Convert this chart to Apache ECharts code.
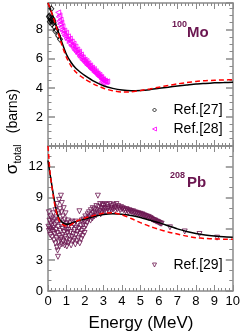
<!DOCTYPE html>
<html><head><meta charset="utf-8">
<script src="https://cdn.jsdelivr.net/npm/echarts@6/dist/echarts.min.js"></script>
<style>html,body{margin:0;padding:0;background:#fff}#c{width:243px;height:333px}</style>
</head><body><div id="c"></div>
<script>
// ---------- Top panel: 100Mo ----------
const moCalcSolid = [[0,9.85],[0.05,9.7],[0.25,9.0],[0.5,8.1],[0.75,7.15],[1.0,6.3],[1.25,5.75],[1.5,5.35],[1.75,5.08],[2.0,4.85],[2.5,4.45],[3.0,4.15],[3.5,3.97],[4.0,3.85],[4.5,3.8],[5.0,3.82],[5.5,3.88],[6.0,3.97],[6.5,4.05],[7.0,4.13],[7.5,4.2],[8.0,4.27],[8.5,4.31],[9.0,4.35],[9.5,4.37],[10.0,4.39]];
const moCalcDashed = [[0,9.85],[0.25,9.0],[0.5,8.0],[0.75,6.95],[1.0,6.1],[1.25,5.5],[1.5,5.1],[1.75,4.82],[2.0,4.6],[2.5,4.25],[3.0,3.98],[3.5,3.8],[4.0,3.72],[4.5,3.73],[5.0,3.82],[5.5,3.93],[6.0,4.05],[6.5,4.17],[7.0,4.28],[7.5,4.37],[8.0,4.45],[8.5,4.5],[9.0,4.53],[9.5,4.55],[10.0,4.56]];
const moRef27 = [[0.18,9.45],[0.08,8.95],[0.12,8.8],[0.15,8.7],[0.2,8.6],[0.25,8.75],[0.3,8.5],[0.1,8.55],[0.22,8.4],[0.35,8.2],[0.45,8.0],[0.4,7.9],[0.55,7.6],[0.65,7.35],[0.28,8.65],[0.05,8.9]];
const moRef28 = [[0.55,9.2],[0.58,8.9],[0.6,8.6],[0.62,9.0],[0.65,8.4],[0.68,8.7],[0.7,8.2],[0.72,8.5],[0.75,8.0],[0.78,8.25],[0.8,7.9],[0.85,7.75],[0.88,7.95],[0.9,7.6],[0.95,7.55],[0.98,7.8],[1.0,7.4],[1.05,7.3],[1.08,7.55],[1.1,7.35],[1.15,7.1],[1.18,7.4],[1.2,7.2],[1.25,6.95],[1.28,7.2],[1.3,6.85],[1.35,6.9],[1.38,7.05],[1.4,6.7],[1.45,6.6],[1.48,6.85],[1.5,6.55],[1.55,6.45],[1.58,6.65],[1.6,6.35],[1.65,6.4],[1.68,6.5],[1.7,6.2],[1.75,6.1],[1.78,6.3],[1.8,6.15],[1.85,5.95],[1.88,6.1],[1.9,5.9],[1.95,5.85],[1.98,5.95],[2.0,5.75],[2.05,5.7],[2.08,5.85],[2.1,5.6],[2.15,5.55],[2.18,5.7],[2.2,5.5],[2.25,5.45],[2.28,5.55],[2.3,5.35],[2.35,5.3],[2.38,5.4],[2.4,5.25],[2.45,5.2],[2.48,5.3],[2.5,5.1],[2.55,5.05],[2.58,5.15],[2.6,5.0],[2.65,4.95],[2.68,5.0],[2.7,4.85],[2.75,4.8],[2.78,4.9],[2.8,4.75],[2.85,4.7],[2.88,4.75],[2.9,4.6],[2.95,4.55],[2.98,4.6],[3.0,4.5],[3.05,4.45],[3.08,4.5],[3.1,4.42],[3.15,4.4],[3.2,4.45],[2.9,4.4],[3.0,4.35]];

// ---------- Bottom panel: 208Pb ----------
const pbCalcSolid = [[0,12.6],[0.05,12.0],[0.1,11.4],[0.2,10.3],[0.3,9.2],[0.4,8.2],[0.5,7.5],[0.6,7.0],[0.7,6.75],[0.8,6.6],[0.9,6.5],[1.0,6.45],[1.2,6.5],[1.5,6.7],[2.0,6.95],[2.5,7.2],[3.0,7.38],[3.5,7.45],[4.0,7.42],[4.5,7.3],[5.0,7.1],[5.5,6.85],[6.0,6.6],[6.5,6.3],[7.0,6.0],[7.5,5.75],[8.0,5.55],[8.5,5.4],[9.0,5.3],[9.5,5.23],[10.0,5.2]];
const pbCalcDashed = [[0,14.0],[0.05,12.8],[0.1,11.6],[0.2,10.2],[0.3,9.0],[0.4,8.0],[0.5,7.3],[0.6,6.85],[0.7,6.55],[0.8,6.4],[0.9,6.3],[1.0,6.28],[1.2,6.35],[1.5,6.7],[2.0,7.05],[2.5,7.3],[3.0,7.5],[3.5,7.55],[4.0,7.35],[4.5,7.0],[5.0,6.6],[5.5,6.25],[6.0,5.95],[6.5,5.7],[7.0,5.5],[7.5,5.3],[8.0,5.15],[8.5,5.07],[9.0,5.03],[9.5,5.0],[10.0,5.0]];
const pbRef29 = [
[0.02,6.2],[0.05,7.6],[0.05,5.8],[0.08,6.8],[0.1,6.0],[0.12,7.2],[0.12,5.4],[0.15,6.5],[0.18,5.9],[0.2,7.0],[0.2,6.3],[0.22,5.2],[0.25,6.7],[0.28,5.7],[0.3,7.5],[0.3,6.1],[0.32,4.9],[0.35,6.9],[0.35,5.5],[0.38,6.4],[0.4,7.8],[0.4,4.6],[0.42,5.9],[0.45,7.1],[0.45,5.1],[0.48,6.6],[0.48,4.2],
[0.5,8.4],[0.5,5.6],[0.52,3.9],[0.54,3.3],[0.55,6.2],[0.55,7.4],[0.58,4.7],[0.6,8.8],[0.6,5.3],[0.62,6.8],[0.62,4.3],[0.65,7.9],[0.65,5.8],[0.68,4.9],[0.7,9.2],[0.7,6.4],[0.72,5.1],[0.72,7.6],[0.75,8.5],[0.75,4.5],[0.78,6.0],[0.8,5.4],[0.8,7.2],[0.82,4.8],[0.85,6.6],[0.85,8.0],[0.88,5.7],[0.9,4.4],[0.9,6.9],[0.92,5.2],[0.95,6.2],[0.95,7.5],[0.98,4.7],[0.98,5.9],
[1.0,6.5],[1.0,5.0],[1.02,4.3],[1.05,5.6],[1.08,6.8],[1.1,4.6],[1.1,5.9],[1.12,6.3],[1.15,5.3],[1.18,4.9],[1.2,6.6],[1.22,5.7],[1.25,4.4],[1.28,6.1],[1.3,5.2],[1.32,6.7],[1.35,4.8],[1.38,5.5],[1.4,6.4],[1.42,5.0],[1.45,5.9],[1.48,4.5],[1.5,6.7],[1.52,5.4],[1.55,6.1],[1.58,4.8],[1.6,5.7],[1.62,6.5],[1.65,5.1],[1.68,6.0],[1.7,7.7],[1.72,4.6],[1.75,5.5],[1.78,6.3],[1.8,5.0],[1.82,6.8],[1.85,5.8],[1.88,5.3],[1.9,6.4],[1.92,6.9],[1.95,6.0],[1.98,5.6],
[2.0,6.7],[2.02,7.2],[2.05,6.3],[2.1,7.0],[2.12,6.6],[2.15,7.4],[2.2,6.9],[2.22,7.6],[2.25,7.1],[2.3,6.8],[2.32,7.8],[2.35,7.3],[2.4,7.0],[2.42,8.0],[2.45,7.5],[2.5,7.2],[2.52,7.9],[2.55,7.6],[2.6,7.3],[2.62,8.2],[2.65,7.8],[2.7,9.2],[2.72,7.5],[2.75,8.1],[2.8,7.7],[2.82,8.4],[2.85,7.4],[2.9,8.0],[2.92,7.6],[2.95,8.3],[2.98,7.9],
[3.0,8.2],[3.05,7.7],[3.08,8.4],[3.1,8.0],[3.15,7.6],[3.2,8.3],[3.22,7.9],[3.25,8.1],[3.3,7.7],[3.35,8.4],[3.4,8.0],[3.42,7.8],[3.45,8.2],[3.5,7.9],[3.55,8.3],[3.6,8.0],[3.62,7.7],[3.65,8.1],[3.7,8.4],[3.75,7.9],[3.8,8.2],[3.85,8.0],[3.9,7.8],[3.95,8.1],[4.0,7.9],[4.05,8.0],[4.1,7.8],[4.15,7.9],[4.2,7.7],[4.25,7.9],[4.3,7.8],[4.35,7.6],[4.4,7.8],[4.45,7.7],
[4.5,7.7],[4.55,7.6],[4.6,7.7],[4.65,7.55],[4.7,7.6],[4.75,7.5],[4.8,7.55],[4.85,7.45],[4.9,7.5],[4.95,7.4],[5.0,7.45],[5.05,7.35],[5.1,7.4],[5.15,7.3],[5.2,7.3],[5.25,7.25],[5.3,7.2],[5.35,7.2],[5.4,7.1],[5.45,7.15],[5.5,7.0],[5.55,7.05],[5.6,6.95],[5.65,6.9],[5.7,6.85],[5.75,6.8],[5.8,6.8],[5.85,6.7],[5.9,6.7],[5.95,6.65],[6.0,6.6],[6.05,6.55],[6.1,6.5],[6.15,6.5],
[6.6,6.15],[7.4,5.75],[8.2,5.5],[9.15,5.15]];

const xTicks = [0,1,2,3,4,5,6,7,8,9,10];
const yTicksTop = [2,4,6,8];
const yTicksBottom = [0,3,6,9,12];

const AX = '#8a8a8a';
const PURPLE = '#6b1650';
const FONT = 'Liberation Sans, Arial, sans-serif';

function xAx(gi, pos, showLabel) {
  return {type:'value', gridIndex:gi, position:pos, min:0, max:10, interval:1,
    axisLine:{show:true, onZero:false, lineStyle:{color:AX, width:1.5}},
    axisTick:{show:true, inside:true, length:6, lineStyle:{color:AX, width:1}},
    minorTick:{show:true, splitNumber:5, length:3, lineStyle:{color:AX, width:1}},
    splitLine:{show:false},
    axisLabel:{show:showLabel, color:'#000', fontSize:13, fontFamily:FONT, margin:4,
      formatter:v => xTicks.includes(v) ? String(v) : ''}};
}
function yAx(gi, pos, max, interval, minor, ticks, showLabel) {
  return {type:'value', gridIndex:gi, position:pos, min:0, max:max, interval:interval,
    axisLine:{show:true, onZero:false, lineStyle:{color:AX, width:1.5}},
    axisTick:{show:true, inside:true, length:7, lineStyle:{color:AX, width:1.5}},
    minorTick:{show:true, splitNumber:minor, length:3.5, lineStyle:{color:AX, width:1}},
    splitLine:{show:false},
    axisLabel:{show:showLabel, color:'#000', fontSize:13, fontFamily:FONT, margin:5,
      formatter:v => ticks.includes(v) ? String(v) : ''}};
}

const ICON_LEFT = 'path://M0,5L10,0L10,10Z';
const ICON_DOWN = 'path://M0,0L10,0L5,10Z';
const openStyle = c => ({color:'rgba(255,255,255,0)', borderColor:c, borderWidth:1});

const chart = echarts.init(document.getElementById('c'), null, {renderer:'canvas'});
chart.setOption({
  animation:false,
  backgroundColor:'#fff',
  grid:[
    {left:48, right:10, top:3, height:143},
    {left:48, right:10, top:146, height:145}
  ],
  xAxis:[xAx(0,'bottom',false), xAx(0,'top',false), xAx(1,'bottom',true), xAx(1,'top',false)],
  yAxis:[yAx(0,'left',9.85,2,4,yTicksTop,true), yAx(0,'right',9.85,2,4,yTicksTop,false),
         yAx(1,'left',14,3,3,yTicksBottom,true), yAx(1,'right',14,3,3,yTicksBottom,false)],
  legend:[
    {left:147, top:98, orient:'vertical', itemWidth:4, itemHeight:4, itemGap:5, symbolRotate:0,
     itemStyle:{borderWidth:1},
     data:[{name:'Ref.[27]', icon:'diamond', itemStyle:openStyle('#000')},
           {name:'Ref.[28]', icon:ICON_LEFT, itemStyle:openStyle('#ff00ff')}],
     textStyle:{fontSize:14, fontFamily:FONT, color:'#000', padding:[0,0,0,12], lineHeight:14}},
    {left:147, top:253, orient:'vertical', itemWidth:4, itemHeight:4, symbolRotate:0,
     itemStyle:{borderWidth:1},
     data:[{name:'Ref.[29]', icon:ICON_DOWN, itemStyle:openStyle(PURPLE)}],
     textStyle:{fontSize:14, fontFamily:FONT, color:'#000', padding:[0,0,0,12], lineHeight:14}}
  ],
  series:[
    {name:'Ref.[27]', type:'scatter', xAxisIndex:0, yAxisIndex:0, data:moRef27,
     symbol:'diamond', symbolSize:[5,6], itemStyle:openStyle('#000'), z:3},
    {name:'Ref.[28]', type:'scatter', xAxisIndex:0, yAxisIndex:0, data:moRef28,
     symbol:'triangle', symbolSize:5, symbolRotate:90, itemStyle:openStyle('#ff00ff'), z:2},
    {name:'moSolid', type:'line', xAxisIndex:0, yAxisIndex:0, data:moCalcSolid, smooth:0.2,
     showSymbol:false, lineStyle:{color:'#000', width:1.5}, z:5},
    {name:'moDashed', type:'line', xAxisIndex:0, yAxisIndex:0, data:moCalcDashed, smooth:0.2,
     showSymbol:false, lineStyle:{color:'#ff0000', width:1.5, type:[5,3]}, z:6},
    {name:'Ref.[29]', type:'scatter', xAxisIndex:2, yAxisIndex:2, data:pbRef29,
     symbol:'triangle', symbolSize:5, symbolRotate:180, itemStyle:openStyle(PURPLE), z:2},
    {name:'pbSolid', type:'line', xAxisIndex:2, yAxisIndex:2, data:pbCalcSolid, smooth:0.2,
     showSymbol:false, lineStyle:{color:'#000', width:1.5}, z:5},
    {name:'pbDashed', type:'line', xAxisIndex:2, yAxisIndex:2, data:pbCalcDashed, smooth:0.2,
     showSymbol:false, lineStyle:{color:'#ff0000', width:1.5, type:[5,3]}, z:6}
  ],
  graphic:[
    {type:'text', x:172, y:25, style:{text:'100', fontSize:9, fontWeight:'bold', fontFamily:FONT, fill:PURPLE, verticalAlign:'middle'}},
    {type:'text', x:187, y:33, style:{text:'Mo', fontSize:15, fontWeight:'bold', fontFamily:FONT, fill:PURPLE, verticalAlign:'middle'}},
    {type:'text', x:170, y:176, style:{text:'208', fontSize:9, fontWeight:'bold', fontFamily:FONT, fill:PURPLE, verticalAlign:'middle'}},
    {type:'text', x:187, y:183, style:{text:'Pb', fontSize:15, fontWeight:'bold', fontFamily:FONT, fill:PURPLE, verticalAlign:'middle'}},
    {type:'text', x:141, y:323, style:{text:'Energy (MeV)', fontSize:17, fontFamily:FONT, fill:'#000', align:'center', verticalAlign:'middle'}},
    {type:'text', x:13, y:111, rotation:Math.PI/2, style:{text:'(barns)', fontSize:14, fontFamily:FONT, fill:'#000', align:'center', verticalAlign:'middle'}},
    {type:'text', x:18, y:154, rotation:Math.PI/2, style:{text:'total', fontSize:10, fontFamily:FONT, fill:'#000', align:'center', verticalAlign:'middle'}},
    {type:'text', x:12, y:169, rotation:Math.PI/2, style:{text:'σ', fontSize:17, fontFamily:FONT, fill:'#000', align:'center', verticalAlign:'middle'}}
  ]
});
</script>
</body></html>
